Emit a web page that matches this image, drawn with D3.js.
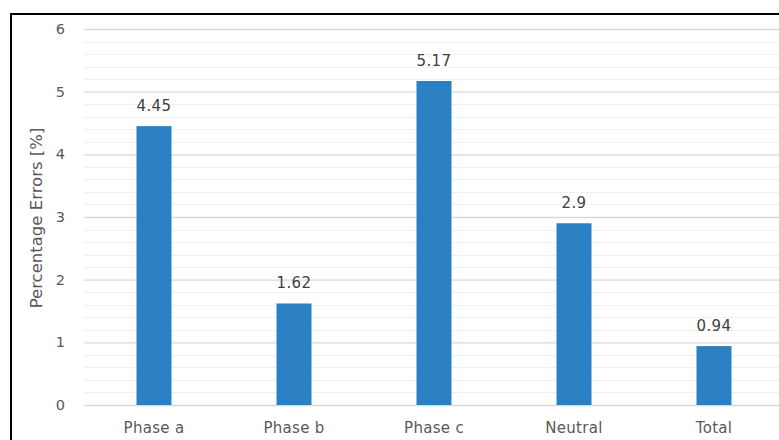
<!DOCTYPE html>
<html>
<head>
<meta charset="utf-8">
<script src="https://cdn.jsdelivr.net/npm/d3@7/dist/d3.min.js"></script>
<style>
  html, body { margin: 0; padding: 0; background: #fff; }
  svg { display: block; }
  text { font-family: "DejaVu Sans", "Open Sans", sans-serif; }
</style>
</head>
<body>
<svg id="chart" width="779" height="440"></svg>
<script>
// Percentage error per phase
const categories = ["Phase a", "Phase b", "Phase c", "Neutral", "Total"];
const errors = [4.45, 1.62, 5.17, 2.9, 0.94];
const majorTicks = [0, 1, 2, 3, 4, 5, 6];
const yTitle = "Percentage Errors [%]";

const svg = d3.select("#chart");

// chart frame
svg.append("rect")
  .attr("x", 11).attr("y", 14)
  .attr("width", 800).attr("height", 460)
  .attr("fill", "#fff")
  .attr("stroke", "#000")
  .attr("stroke-width", 2);

const x = d3.scaleBand().domain(categories).range([84, 784]).paddingInner(0.75).paddingOuter(0.375);
const y = d3.scaleLinear().domain([0, 6]).range([405, 29]);

// minor gridlines every 0.2
const minor = d3.range(0, 30).map(i => i * 0.2).filter(v => Math.abs(v - Math.round(v)) > 1e-6);
svg.append("g").selectAll("line").data(minor).join("line")
  .attr("x1", 84).attr("x2", 779)
  .attr("y1", d => Math.round(y(d)) + 0.5).attr("y2", d => Math.round(y(d)) + 0.5)
  .attr("stroke", "#f0f0f0").attr("stroke-width", 1);

// major gridlines via axis
const yAxis = d3.axisLeft(y).tickValues(majorTicks).tickFormat(d3.format("d")).tickSize(-(779 - 84)).tickPadding(19);
const gy = svg.append("g").attr("transform", "translate(84,0)").call(yAxis);
gy.select(".domain").remove();
gy.selectAll(".tick line").attr("stroke", "#d9d9d9").attr("stroke-width", 1.3);
gy.selectAll(".tick text").attr("fill", "#595959").attr("font-size", 14.5).attr("font-family", "DejaVu Sans");

// bars
svg.append("g").selectAll("rect").data(errors).join("rect")
  .attr("x", (d, i) => x(categories[i]))
  .attr("width", x.bandwidth())
  .attr("y", d => y(d))
  .attr("height", d => y(0) - y(d))
  .attr("fill", "#2a80c2");

// value labels
svg.append("g").selectAll("text").data(errors).join("text")
  .attr("x", (d, i) => x(categories[i]) + x.bandwidth() / 2)
  .attr("y", d => y(d) - 15)
  .attr("text-anchor", "middle")
  .attr("fill", "#404040")
  .attr("font-size", 15)
  .attr("letter-spacing", 0.4)
  .text(d => String(d));

// category axis
const xAxis = d3.axisBottom(x).tickSize(0).tickPadding(0);
const gx = svg.append("g").attr("transform", "translate(0,405)").call(xAxis);
gx.select(".domain").remove();
gx.selectAll(".tick text")
  .attr("dy", null).attr("y", 28)
  .attr("fill", "#595959").attr("font-size", 15)
  .attr("letter-spacing", 0.3)
  .attr("font-family", "DejaVu Sans");

// y axis title
svg.append("text")
  .attr("transform", "translate(42,218) rotate(-90)")
  .attr("text-anchor", "middle")
  .attr("fill", "#595959")
  .attr("font-size", 16.5)
  .text(yTitle);
</script>
</body>
</html>
